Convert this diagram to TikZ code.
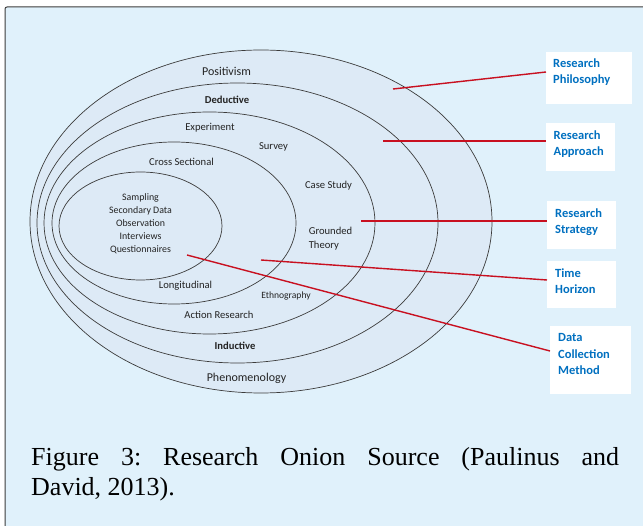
\documentclass[tikz,border=0pt]{standalone}
\usepackage{fontspec}
\setmainfont{Carlito}
\newfontfamily\capfont{Liberation Serif}
\definecolor{panelbg}{RGB}{224,241,251}
\definecolor{panelline}{RGB}{60,60,60}
\definecolor{onionfill}{RGB}{221,234,246}
\definecolor{ringline}{RGB}{60,60,60}
\definecolor{oniontext}{RGB}{35,35,35}
\definecolor{labelblue}{RGB}{0,112,192}
\definecolor{linkred}{RGB}{200,16,32}
\begin{document}
\begin{tikzpicture}[x=1pt,y=-1pt,
  ring/.style={draw=ringline,line width=0.7pt},
  ot/.style={text=oniontext,inner sep=0pt,font=\fontsize{10.6}{12}\selectfont},
  otbig/.style={text=oniontext,inner sep=0pt,font=\fontsize{12}{14}\selectfont},
  otbold/.style={text=oniontext,inner sep=0pt,font=\bfseries\fontsize{10.6}{12}\selectfont},
  labbox/.style={fill=white,draw=none,anchor=north west,inner sep=0pt},
  labtext/.style={text=labelblue,font=\bfseries\fontsize{12.5}{16.5}\selectfont,align=left,anchor=north west,inner sep=0pt},
  link/.style={draw=linkred,line width=1.4pt}]
\useasboundingbox (0,0) rectangle (643,526);
\clip (0,0) rectangle (643,526);
% panel
\draw[fill=panelbg,draw=panelline,line width=1pt,rounded corners=2pt] (5,7) rectangle (670,560);
% onion rings
\draw[ring,fill=onionfill] (261,221.5) ellipse [x radius=231pt, y radius=171.5pt];
\draw[ring] (237.5,223) ellipse [x radius=200.5pt, y radius=140pt];
\draw[ring] (209.5,223) ellipse [x radius=165.5pt, y radius=111pt];
\draw[ring] (174,223) ellipse [x radius=122pt, y radius=81pt];
\draw[ring] (140.5,226) ellipse [x radius=81.5pt, y radius=54pt];
% onion texts
\node[otbig] (positivism) at (226.5,71) {Positivism};
\node[otbold] (deductive) at (227,100) {Deductive};
\node[ot] (experiment) at (210,128) {Experiment};
\node[ot] (survey) at (273.5,147) {Survey};
\node[ot] (cross) at (181.5,162) {Cross Sectional};
\node[ot] (casestudy) at (328.5,186) {Case Study};
\node[ot,align=left,font=\fontsize{10.6}{14}\selectfont] (grounded) at (330.5,239) {Grounded\\Theory};
\node[ot,align=center,font=\fontsize{9.9}{13}\selectfont] (methods) at (140.5,223.5) {Sampling\\Secondary Data\\Observation\\Interviews\\Questionnaires};
\node[ot] (longitudinal) at (185.5,286) {Longitudinal};
\node[ot,font=\fontsize{9.6}{11}\selectfont] (ethno) at (286,296) {Ethnography};
\node[ot] (action) at (219,315) {Action Research};
\node[otbold] (inductive) at (235,346) {Inductive};
\begin{scope}
\clip (150,360) rectangle (340,383.5);
\node[otbig] (phenom) at (246.5,378) {Phenomenology};
\end{scope}
% label boxes
\node[labbox,minimum width=86pt,minimum height=52pt] (philbox) at (546,52) {};
\node[labbox,minimum width=69pt,minimum height=48pt] (appbox) at (546,123) {};
\node[labbox,minimum width=69pt,minimum height=48pt] (stratbox) at (547,201) {};
\node[labbox,minimum width=69pt,minimum height=47pt] (timebox) at (547,261) {};
\node[labbox,minimum width=81pt,minimum height=68pt] (databox) at (550,326) {};
\node[labtext] (philtext) at (553,58.5) {Research\\Philosophy};
\node[labtext] (apptext) at (553.5,130.5) {Research\\Approach};
\node[labtext] (strattext) at (555,208.5) {Research\\Strategy};
\node[labtext] (timetext) at (555,268.5) {Time\\Horizon};
\node[labtext] (datatext) at (558,333.5) {Data\\Collection\\Method};
% connectors
\coordinate (c1) at (393,89);
\coordinate (c2) at (383,141);
\coordinate (c3) at (361,221);
\coordinate (c4) at (261,260);
\coordinate (c5) at (187,255);
\draw[link] (c1) -- ([yshift=-20pt]philbox.north west);
\draw[link] (c2) -- ([yshift=-18pt]appbox.north west);
\draw[link] (c3) -- ([yshift=-20pt]stratbox.north west);
\draw[link] (c4) -- ([yshift=-19pt]timebox.north west);
\draw[link] (c5) -- ([yshift=-25pt]databox.north west);
% caption
\node[anchor=north west,inner sep=0pt,text width=588pt,align=justify,
      font=\capfont\fontsize{26}{30}\selectfont\frenchspacing] (caption) at (31,447)
  {Figure 3: Research Onion Source (Paulinus and\linebreak David, 2013).};
\end{tikzpicture}
\end{document}
